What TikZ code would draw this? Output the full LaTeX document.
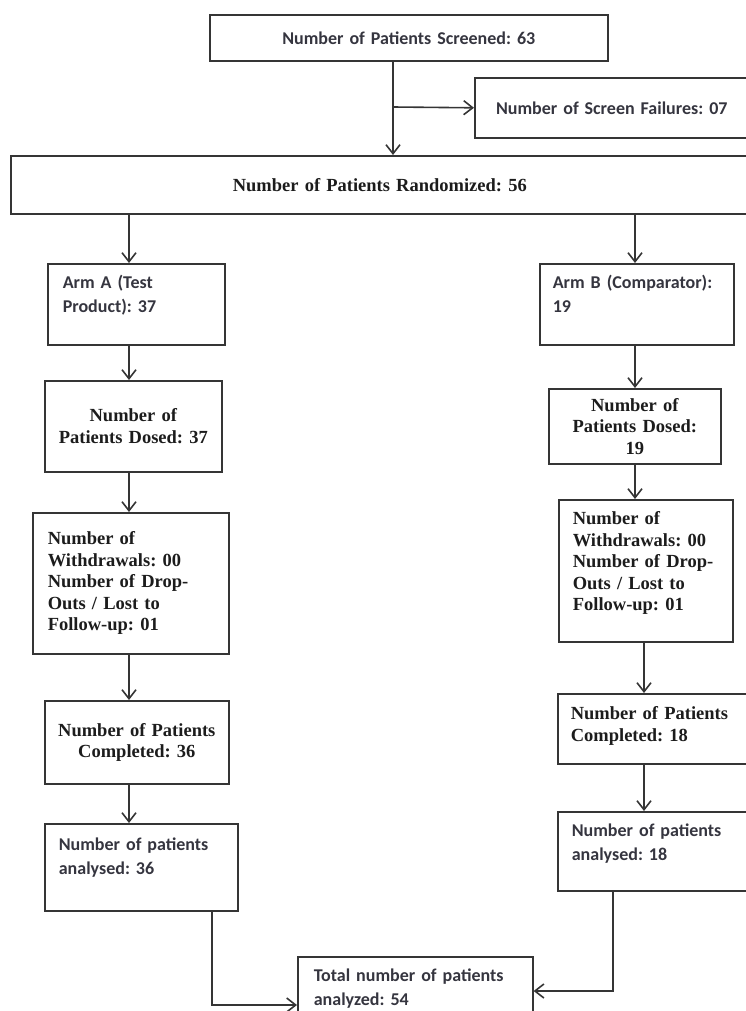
\documentclass[tikz,border=0pt]{standalone}
\usepackage{fontspec}
\setmainfont{Liberation Serif}
\setsansfont{Carlito}
\usepackage{tikz}
\usetikzlibrary{arrows.meta}
\definecolor{linec}{HTML}{353535}
\definecolor{sansc}{HTML}{35353F}
\definecolor{serifc}{HTML}{1C1C1C}
\frenchspacing

\begin{document}
\begin{tikzpicture}[x=1pt, y=-1pt,
  box/.style={draw=linec, line width=1.6pt, anchor=north west, inner ysep=0pt, inner xsep=12pt},
  sanstxt/.style={font=\sffamily\bfseries\fontsize{18}{24}\selectfont, text=sansc},
  seriftxt/.style={font=\rmfamily\bfseries\fontsize{18.5}{21.5}\selectfont, text=serifc},
  arr/.style={draw=linec, line width=1.6pt, -{Straight Barb[length=9pt, width=14pt]}}]
\useasboundingbox (0,0) rectangle (746,1011);

% screening and randomisation
\node[box, sanstxt, minimum width=398pt, minimum height=46pt, text width=374pt, align=center] (scr) at (209,14) {Number of Patients Screened: 63};
\node[box, sanstxt, minimum width=274pt, minimum height=60pt, text width=250pt, align=center] (fail) at (474,77) {Number of Screen Failures: 07};
\node[box, seriftxt, minimum width=738pt, minimum height=58pt, text width=714pt, align=center] (rand) at (10,155) {Number of Patients Randomized: 56};

% arm A
\node[box, sanstxt, inner xsep=15pt, minimum width=177pt, text width=147pt, align=left, text height=25pt, text depth=56pt] (armA) at (47,263) {Arm A (Test\\Product): 37};
\node[box, seriftxt, minimum width=177pt, minimum height=91pt, text width=153pt, align=center] (dosA) at (44,380) {Number of\\Patients Dosed: 37};
\node[box, seriftxt, inner xsep=15pt, minimum width=196pt, minimum height=141pt, text width=166pt, align=left] (wdA) at (32,512) {Number of\\Withdrawals: 00\\Number of Drop-\\Outs / Lost to\\Follow-up: 01};
\node[box, seriftxt, minimum width=184pt, minimum height=83pt, text width=160pt, align=center] (compA) at (44,700) {Number of Patients\\Completed: 36};
\node[box, sanstxt, inner xsep=14pt, minimum width=193pt, text width=165pt, align=left, text height=27pt, text depth=60pt] (anaA) at (44,823) {Number of patients\\analysed: 36};

% arm B
\node[box, sanstxt, inner xsep=13pt, minimum width=194pt, text width=168pt, align=left, text height=25pt, text depth=56pt] (armB) at (539,263) {Arm B (Comparator):\\19};
\node[box, seriftxt, inner xsep=8pt, minimum width=172pt, minimum height=75pt, text width=156pt, align=center] (dosB) at (548,388) {Number of\\Patients Dosed:\\19};
\node[box, seriftxt, inner xsep=14pt, minimum width=174pt, text width=146pt, align=left, text height=25pt, text depth=117pt] (wdB) at (558,499) {Number of\\Withdrawals: 00\\Number of Drop-\\Outs / Lost to\\Follow-up: 01};
\node[box, seriftxt, inner xsep=13pt, minimum width=191pt, text width=165pt, align=left, text height=26pt, text depth=44pt] (compB) at (557,693) {Number of Patients\\Completed: 18};
\node[box, sanstxt, inner xsep=14pt, minimum width=191pt, text width=163pt, align=left, text height=25pt, text depth=54pt] (anaB) at (557,811) {Number of patients\\analysed: 18};

% total
\node[box, sanstxt, inner xsep=16pt, minimum width=235pt, text width=203pt, align=left, text height=25pt, text depth=39pt] (total) at (297,956) {Total number of patients\\analyzed: 54};

\coordinate (trunk) at (393,107);
\coordinate (colA) at (129,0);
\coordinate (colB) at (635,0);
\coordinate (colB2) at (644,0);
\coordinate (jA) at (212,1005);
\coordinate (jB) at (613,991);

\draw[arr] (scr.south -| trunk) -- (rand.north -| trunk);
\draw[arr] (trunk) -- (fail.west);
\draw[arr] (rand.south -| colA) -- (armA.north -| colA);
\draw[arr] (armA.south -| colA) -- (dosA.north -| colA);
\draw[arr] (dosA.south -| colA) -- (wdA.north -| colA);
\draw[arr] (wdA.south -| colA) -- (compA.north -| colA);
\draw[arr] (compA.south -| colA) -- (anaA.north -| colA);
\draw[arr] (rand.south -| colB) -- (armB.north -| colB);
\draw[arr] (armB.south -| colB) -- (dosB.north -| colB);
\draw[arr] (dosB.south -| colB) -- (wdB.north -| colB);
\draw[arr] (wdB.south -| colB2) -- (compB.north -| colB2);
\draw[arr] (compB.south -| colB2) -- (anaB.north -| colB2);
\draw[arr] (anaA.south -| jA) -- (jA) -- (total.west |- jA);
\draw[arr] (anaB.south -| jB) -- (jB) -- (total.east |- jB);
\end{tikzpicture}
\end{document}
